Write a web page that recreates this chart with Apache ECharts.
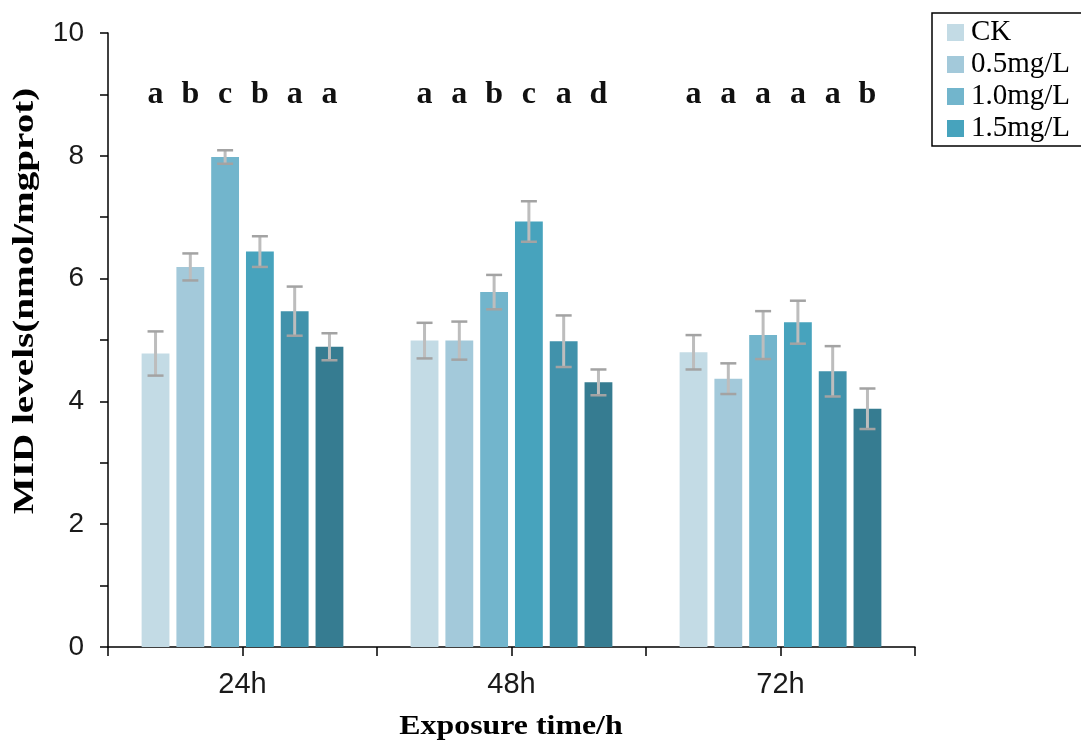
<!DOCTYPE html>
<html>
<head>
<meta charset="utf-8">
<script src="https://cdn.jsdelivr.net/npm/echarts@6/dist/echarts.min.js"></script>
<style>html,body{margin:0;padding:0;background:#fff;}#chart{width:1081px;height:745px;}</style>
</head>
<body>
<div id="chart"></div>
<script>
const categories = ['24h', '48h', '72h'];
const seriesNames = ['CK', '0.5mg/L', '1.0mg/L', '1.5mg/L', '2.0mg/L', '2.5mg/L'];
const legendNames = ['CK', '0.5mg/L', '1.0mg/L', '1.5mg/L'];
const colors = ['#c3dbe5', '#a3c9da', '#72b5cc', '#47a3bd', '#4192ab', '#367c91'];

const valCK  = [4.78, 4.99, 4.80];
const val05  = [6.19, 4.99, 4.37];
const val10  = [7.98, 5.78, 5.08];
const val15  = [6.44, 6.93, 5.29];
const val20  = [5.47, 4.98, 4.49];
const val25  = [4.89, 4.31, 3.88];

const errCK  = [0.36, 0.29, 0.28];
const err05  = [0.22, 0.31, 0.25];
const err10  = [0.11, 0.28, 0.39];
const err15  = [0.25, 0.33, 0.35];
const err20  = [0.40, 0.42, 0.41];
const err25  = [0.22, 0.21, 0.33];

const lettersCK = ['a', 'a', 'a'];
const letters05 = ['b', 'a', 'a'];
const letters10 = ['c', 'b', 'a'];
const letters15 = ['b', 'c', 'a'];
const letters20 = ['a', 'a', 'a'];
const letters25 = ['a', 'd', 'b'];
const letterLevel = 9.0;

const yTicks = [0, 2, 4, 6, 8, 10];

const values = [valCK, val05, val10, val15, val20, val25];
const errors = [errCK, err05, err10, err15, err20, err25];
const letters = [lettersCK, letters05, letters10, letters15, letters20, letters25];

const BAR_GAP = '25%';
const CAT_GAP = '25%';

const barSeries = seriesNames.map((name, s) => ({
  name: name,
  type: 'bar',
  xAxisIndex: 0,
  barGap: BAR_GAP,
  barCategoryGap: CAT_GAP,
  itemStyle: { color: colors[s] },
  data: values[s],
  z: 2
}));

const errData = [];
const letterData = [];
for (let s = 0; s < seriesNames.length; s++) {
  for (let c = 0; c < categories.length; c++) {
    errData.push([c, s, values[s][c] - errors[s][c], values[s][c] + errors[s][c]]);
    letterData.push([c, s, letterLevel]);
  }
}

const errSeries = {
  type: 'custom',
  name: 'err',
  xAxisIndex: 0,
  z: 5,
  silent: true,
  encode: { x: 0, y: [2, 3] },
  data: errData,
  renderItem: function (params, api) {
    const c = api.value(0), s = api.value(1);
    const layout = api.barLayout({ barGap: BAR_GAP, barCategoryGap: CAT_GAP, count: seriesNames.length });
    const off = layout[s].offsetCenter;
    const pLo = api.coord([c, api.value(2)]);
    const pHi = api.coord([c, api.value(3)]);
    const x = pLo[0] + off;
    const hw = 8;
    const st = { stroke: '#a3a3a3', lineWidth: 2.5 };
    return {
      type: 'group',
      children: [
        { type: 'line', shape: { x1: x, y1: pLo[1], x2: x, y2: pHi[1] }, style: { stroke: '#bdbdbd', lineWidth: 3 } },
        { type: 'line', shape: { x1: x - hw, y1: pLo[1], x2: x + hw, y2: pLo[1] }, style: st },
        { type: 'line', shape: { x1: x - hw, y1: pHi[1], x2: x + hw, y2: pHi[1] }, style: st }
      ]
    };
  }
};

const letterSeries = {
  type: 'custom',
  name: 'letters',
  xAxisIndex: 0,
  z: 5,
  silent: true,
  encode: { x: 0, y: 2 },
  data: letterData,
  renderItem: function (params, api) {
    const c = api.value(0), s = api.value(1);
    const layout = api.barLayout({ barGap: BAR_GAP, barCategoryGap: CAT_GAP, count: seriesNames.length });
    const p = api.coord([c, api.value(2)]);
    return {
      type: 'text',
      x: p[0] + layout[s].offsetCenter,
      y: p[1],
      style: {
        text: letters[s][c],
        font: 'bold 32px "Liberation Serif", serif',
        fill: '#111',
        textAlign: 'center',
        textVerticalAlign: 'middle'
      }
    };
  }
};

const chart = echarts.init(document.getElementById('chart'));
chart.setOption({
  animation: false,
  backgroundColor: '#fff',
  grid: { left: 108, right: 166, top: 33, bottom: 98, containLabel: false },
  legend: {
    data: legendNames,
    orient: 'vertical',
    left: 932,
    top: 13,
    padding: [5, 40, 3, 15],
    itemWidth: 17,
    itemHeight: 17,
    itemGap: 3,
    icon: 'rect',
    backgroundColor: '#fff',
    borderColor: '#000',
    borderWidth: 1.5,
    borderRadius: 0,
    selectedMode: false,
    textStyle: { fontFamily: '"Liberation Serif", serif', fontSize: 29, color: '#000', padding: [0, 0, 0, 2] }
  },
  xAxis: [
    {
      type: 'category',
      data: categories,
      position: 'bottom',
      axisLine: { lineStyle: { color: '#000', width: 1.5 } },
      axisTick: { show: true, alignWithLabel: true, length: 9, lineStyle: { color: '#000', width: 1.5 } },
      axisLabel: { margin: 23, fontFamily: '"Liberation Sans", sans-serif', fontSize: 29, color: '#1a1a1a' },
      splitLine: { show: false }
    },
    {
      type: 'category',
      data: categories,
      position: 'bottom',
      offset: 0,
      axisLine: { show: false },
      axisTick: { show: true, alignWithLabel: false, length: 9, lineStyle: { color: '#000', width: 1.5 } },
      axisLabel: { show: false },
      splitLine: { show: false }
    }
  ],
  yAxis: {
    type: 'value',
    min: yTicks[0],
    max: yTicks[yTicks.length - 1],
    interval: 2,
    axisLine: { show: true, lineStyle: { color: '#000', width: 1.5 } },
    axisTick: { show: true, length: 8, lineStyle: { color: '#000', width: 1.5 } },
    minorTick: { show: true, splitNumber: 2, length: 8, lineStyle: { color: '#000', width: 1.5 } },
    axisLabel: { margin: 24, fontFamily: '"Liberation Sans", sans-serif', fontSize: 28, color: '#1a1a1a' },
    splitLine: { show: false },
    minorSplitLine: { show: false }
  },
  graphic: [
    {
      type: 'text',
      x: 26, y: 301,
      rotation: Math.PI / 2,
      scaleX: 1.35,
      style: {
        text: 'MID levels(nmol/mgprot)',
        font: 'bold 29px "Liberation Serif", serif',
        fill: '#000',
        textAlign: 'center',
        textVerticalAlign: 'middle'
      }
    },
    {
      type: 'text',
      x: 511, y: 727,
      scaleX: 1.18,
      style: {
        text: 'Exposure time/h',
        font: 'bold 27px "Liberation Serif", serif',
        fill: '#000',
        textAlign: 'center',
        textVerticalAlign: 'middle'
      }
    }
  ],
  series: barSeries.concat([errSeries, letterSeries])
});
</script>
</body>
</html>
